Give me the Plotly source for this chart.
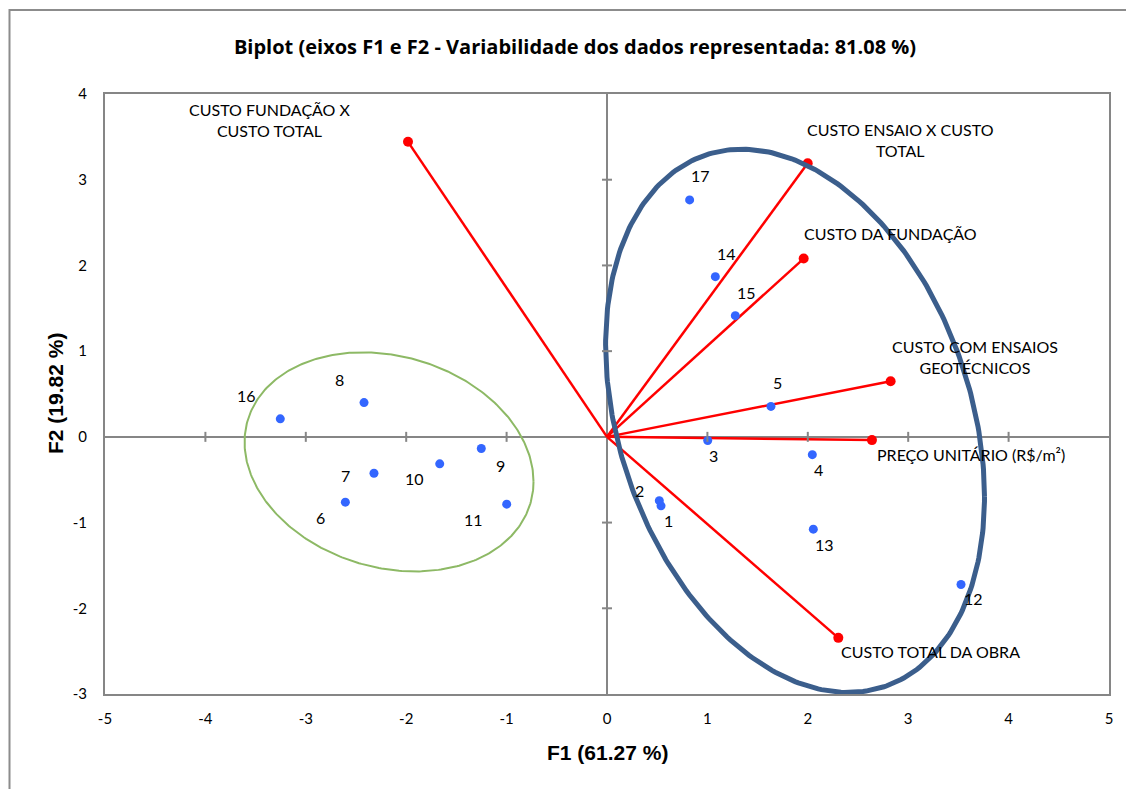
import numpy as np
import plotly.graph_objects as go

# ---------------- data ----------------
obs_labels = [str(i) for i in range(1, 18)]
obs_f1 = [0.538, 0.521, 1.003, 2.045, 1.633, -2.606, -2.321, -2.420, -1.252,
          -1.666, -0.999, 3.526, 2.055, 1.079, 1.278, -3.254, 0.823]
obs_f2 = [-0.805, -0.744, -0.043, -0.208, 0.355, -0.762, -0.424, 0.400, -0.136,
          -0.315, -0.785, -1.722, -1.077, 1.869, 1.414, 0.210, 2.764]

var_labels = ["CUSTO FUNDAÇÃO X<br>CUSTO TOTAL",
              "CUSTO ENSAIO X CUSTO<br>TOTAL",
              "CUSTO DA FUNDAÇÃO",
              "CUSTO COM ENSAIOS<br>GEOTÉCNICOS",
              "PREÇO UNITÁRIO (R$/m²)",
              "CUSTO TOTAL DA OBRA"]
var_f1 = [-1.982, 1.999, 1.959, 2.825, 2.639, 2.304]
var_f2 = [3.442, 3.192, 2.080, 0.649, -0.038, -2.345]

x_ticks = [-5, -4, -3, -2, -1, 0, 1, 2, 3, 4, 5]
x_tick_labels = ["-5", "-4", "-3", "-2", "-1", "0", "1", "2", "3", "4", "5"]
y_ticks = [-3, -2, -1, 0, 1, 2, 3, 4]
y_tick_labels = ["-3", "-2", "-1", "0", "1", "2", "3", "4"]

title_text = "Biplot (eixos F1 e F2 - Variabilidade dos dados representada: 81.08 %)"
x_title = "F1 (61.27 %)"
y_title = "F2 (19.82 %)"

# ---------------- styling / label placement (pixels) ----------------
obs_label_offsets = [(7, 15), (-20, -10), (6, 15), (6, 15), (7, -24), (-25, 15),
                     (-28, 2), (-25, -23), (19, 17), (-25, 15), (-33, 15),
                     (12, 14), (11, 15), (11, -23), (11, -23), (-34, -23), (11, -24)]
var_label_offsets = [(-138, -22), (93, -23), (87, -25), (84, -24), (99, 14), (92, 14)]

# ellipses: center, half-extent in x, half-extent in y, correlation
ellipses = [
    dict(cx=1.873, cy=0.187, hx=1.887, hy=3.169, r=-0.280, color="#3B5E8C", width=5),
    dict(cx=-2.171, cy=-0.292, hx=1.439, hy=1.278, r=-0.180, color="#8DB965", width=2),
]

BLUE = "#3366FF"
RED = "#FF0000"
GRAY = "#868686"
FONT = "Lato"

# page body has an 8px margin -> figure placed at (8, 8)
W, H = 1126, 781
ML, MT = 97, 86
PW, PH = 1004, 600

fig = go.Figure()

# vectors
vx, vy = [], []
for a, b in zip(var_f1, var_f2):
    vx += [0, a, None]
    vy += [0, b, None]
fig.add_trace(go.Scatter(x=vx, y=vy, mode="lines",
                         line=dict(color=RED, width=2.5), hoverinfo="skip"))
fig.add_trace(go.Scatter(x=var_f1, y=var_f2, mode="markers",
                         marker=dict(color=RED, size=10), hoverinfo="skip"))

# observations
fig.add_trace(go.Scatter(x=obs_f1, y=obs_f2, mode="markers",
                         marker=dict(color=BLUE, size=9), hoverinfo="skip"))

# ellipses
t = np.linspace(0, 2 * np.pi, 361)
for e in ellipses:
    ex = e["cx"] + e["hx"] * np.cos(t)
    ey = e["cy"] + e["hy"] * (e["r"] * np.cos(t) + np.sqrt(1 - e["r"] ** 2) * np.sin(t))
    fig.add_trace(go.Scatter(x=ex, y=ey, mode="lines",
                             line=dict(color=e["color"], width=e["width"]),
                             hoverinfo="skip"))

annotations = []
for lab, x, y, (dx, dy) in zip(obs_labels, obs_f1, obs_f2, obs_label_offsets):
    annotations.append(dict(x=x, y=y, xref="x", yref="y", text=lab, showarrow=False,
                            xshift=dx, yshift=-dy, xanchor="center", yanchor="middle",
                            font=dict(family=FONT, size=16, color="black")))
for lab, x, y, (dx, dy) in zip(var_labels, var_f1, var_f2, var_label_offsets):
    annotations.append(dict(x=x, y=y, xref="x", yref="y", text=lab, showarrow=False,
                            xshift=dx, yshift=-dy, xanchor="center", yanchor="middle",
                            align="center",
                            font=dict(family=FONT, size=16, color="black")))

annotations.append(dict(x=0.5, y=-(752 - 694) / PH, xref="paper", yref="paper",
                        text="<b>" + x_title + "</b>", showarrow=False,
                        xanchor="center", yanchor="middle",
                        font=dict(family="Liberation Sans", size=21, color="black")))
annotations.append(dict(x=(55 - 105) / PW, y=0.5, xref="paper", yref="paper",
                        text="<b>" + y_title + "</b>", showarrow=False, textangle=-90,
                        xanchor="center", yanchor="middle",
                        font=dict(family="Liberation Sans", size=21, color="black")))

shapes = []
# tick marks crossing the zero lines
for xv in x_ticks:
    if xv in (x_ticks[0], x_ticks[-1], 0):
        continue
    shapes.append(dict(type="line", xref="x", yref="y", x0=xv, x1=xv,
                       ysizemode="pixel", yanchor=0, y0=-5, y1=5,
                       line=dict(color=GRAY, width=2)))
for yv in y_ticks:
    if yv in (y_ticks[0], y_ticks[-1], 0):
        continue
    shapes.append(dict(type="line", xref="x", yref="y", y0=yv, y1=yv,
                       xsizemode="pixel", xanchor=0, x0=-5, x1=5,
                       line=dict(color=GRAY, width=2)))
# outer chart frame (continues past the right and bottom edges)
shapes.append(dict(type="rect", xref="paper", yref="paper",
                   x0=(9.5 - 105) / PW, x1=1.06, y0=-0.25, y1=(694 - 10) / PH,
                   line=dict(color="#8C8C8C", width=2), layer="below"))

fig.update_layout(
    width=W, height=H,
    margin=dict(l=ML, r=W - ML - PW, t=MT, b=H - MT - PH),
    paper_bgcolor="white", plot_bgcolor="white",
    showlegend=False,
    title=dict(text="<b>" + title_text + "</b>", x=(575 - 105) / PW, xref="paper",
               xanchor="center", y=1 - (47 - 8) / H, yref="container", yanchor="middle",
               font=dict(family="Open Sans", size=20, color="black")),
    annotations=annotations,
    shapes=shapes,
)
fig.update_xaxes(range=[-5, 5], tickvals=x_ticks, ticktext=x_tick_labels, ticks="",
                 showgrid=False,
                 zeroline=True, zerolinecolor=GRAY, zerolinewidth=2,
                 showline=True, mirror=True, linecolor=GRAY, linewidth=2,
                 ticklabelstandoff=10,
                 tickfont=dict(family=FONT, size=15, color="black"))
fig.update_yaxes(range=[-3, 4], tickvals=y_ticks, ticktext=y_tick_labels, ticks="",
                 showgrid=False,
                 zeroline=True, zerolinecolor=GRAY, zerolinewidth=2,
                 showline=True, mirror=True, linecolor=GRAY, linewidth=2,
                 ticklabelstandoff=13,
                 tickfont=dict(family=FONT, size=15, color="black"))

fig.write_html("out.html")
